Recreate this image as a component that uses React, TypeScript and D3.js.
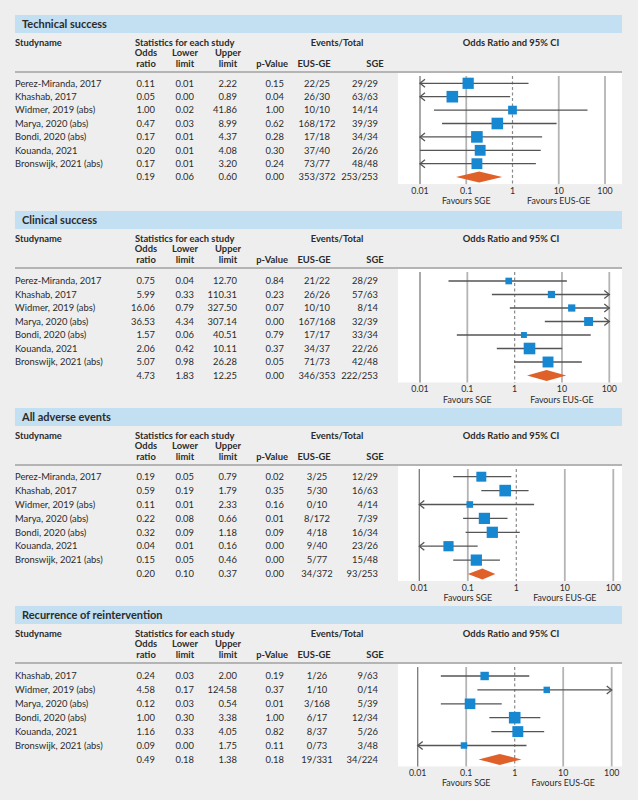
import React from "react";
import * as d3 from "d3";

const FONT = "Lato, 'Open Sans', sans-serif";

// ---------- Technical success ----------
const techStudies = ["Perez-Miranda, 2017", "Khashab, 2017", "Widmer, 2019 (abs)", "Marya, 2020 (abs)", "Bondi, 2020 (abs)", "Kouanda, 2021", "Bronswijk, 2021 (abs)"];
const techOR = [0.11, 0.05, 1.0, 0.47, 0.17, 0.2, 0.17];
const techLower = [0.006, 0.003, 0.02, 0.03, 0.007, 0.01, 0.006];
const techUpper = [2.22, 0.89, 41.86, 8.99, 4.37, 4.08, 3.2];
const techP = [0.15, 0.04, 1.0, 0.62, 0.28, 0.3, 0.24];
const techEUS = ["22/25", "26/30", "10/10", "168/172", "17/18", "37/40", "73/77"];
const techSGE = ["29/29", "63/63", "14/14", "39/39", "34/34", "26/26", "48/48"];
const techWeight = [15.0, 16.0, 9.1, 16.0, 16.0, 14.0, 14.0];
const techPooled = [0.19, 0.06, 0.6, 0.0];
const techPooledEvents = ["353/372", "253/253"];

// ---------- Clinical success ----------
const clinStudies = ["Perez-Miranda, 2017", "Khashab, 2017", "Widmer, 2019 (abs)", "Marya, 2020 (abs)", "Bondi, 2020 (abs)", "Kouanda, 2021", "Bronswijk, 2021 (abs)"];
const clinOR = [0.75, 5.99, 16.06, 36.53, 1.57, 2.06, 5.07];
const clinLower = [0.04, 0.33, 0.79, 4.34, 0.06, 0.42, 0.98];
const clinUpper = [12.7, 110.31, 327.5, 307.14, 40.51, 10.11, 26.28];
const clinP = [0.84, 0.23, 0.07, 0.0, 0.79, 0.37, 0.05];
const clinEUS = ["21/22", "26/26", "10/10", "167/168", "17/17", "34/37", "71/73"];
const clinSGE = ["28/29", "57/63", "8/14", "32/39", "33/34", "22/26", "42/48"];
const clinWeight = [8.6, 10.1, 10.1, 15.4, 6.8, 26.0, 23.0];
const clinPooled = [4.73, 1.83, 12.25, 0.0];
const clinPooledEvents = ["346/353", "222/253"];

// ---------- All adverse events ----------
const aeStudies = ["Perez-Miranda, 2017", "Khashab, 2017", "Widmer, 2019 (abs)", "Marya, 2020 (abs)", "Bondi, 2020 (abs)", "Kouanda, 2021", "Bronswijk, 2021 (abs)"];
const aeOR = [0.19, 0.59, 0.11, 0.22, 0.32, 0.04, 0.15];
const aeLower = [0.05, 0.19, 0.007, 0.08, 0.09, 0.008, 0.05];
const aeUpper = [0.79, 1.79, 2.33, 0.66, 1.18, 0.16, 0.46];
const aeP = [0.02, 0.35, 0.16, 0.01, 0.09, 0.0, 0.0];
const aeEUS = ["3/25", "5/30", "0/10", "8/172", "4/18", "9/40", "5/77"];
const aeSGE = ["12/29", "16/63", "4/14", "7/39", "16/34", "23/26", "15/48"];
const aeWeight = [13.0, 17.7, 5.8, 16.6, 16.6, 13.7, 16.6];
const aePooled = [0.2, 0.1, 0.37, 0.0];
const aePooledEvents = ["34/372", "93/253"];

// ---------- Recurrence of reintervention ----------
const recStudies = ["Khashab, 2017", "Widmer, 2019 (abs)", "Marya, 2020 (abs)", "Bondi, 2020 (abs)", "Kouanda, 2021", "Bronswijk, 2021 (abs)"];
const recOR = [0.24, 4.58, 0.12, 1.0, 1.16, 0.09];
const recLower = [0.03, 0.17, 0.03, 0.3, 0.33, 0.004];
const recUpper = [2.0, 124.58, 0.54, 3.38, 4.05, 1.75];
const recP = [0.19, 0.37, 0.01, 1.0, 0.82, 0.11];
const recEUS = ["1/26", "1/10", "3/168", "6/17", "8/37", "0/73"];
const recSGE = ["9/63", "0/14", "5/39", "12/34", "5/26", "3/48"];
const recWeight = [13.6, 8.0, 21.6, 25.8, 22.9, 8.0];
const recPooled = [0.49, 0.18, 1.38, 0.18];
const recPooledEvents = ["19/331", "34/224"];

const axisTicks = [0.01, 0.1, 1, 10, 100];
const axisTickLabels = ["0.01", "0.1", "1", "10", "100"];

const panels = [
  { title: "Technical success", studies: techStudies, or: techOR, lower: techLower, upper: techUpper, p: techP, eus: techEUS, sge: techSGE, weight: techWeight, pooled: techPooled, pooledEvents: techPooledEvents,
    top: 15, firstRow: 83.3, step: 13.4, range: [420, 605] },
  { title: "Clinical success", studies: clinStudies, or: clinOR, lower: clinLower, upper: clinUpper, p: clinP, eus: clinEUS, sge: clinSGE, weight: clinWeight, pooled: clinPooled, pooledEvents: clinPooledEvents,
    top: 211, firstRow: 281, step: 13.5, range: [420, 609.3] },
  { title: "All adverse events", studies: aeStudies, or: aeOR, lower: aeLower, upper: aeUpper, p: aeP, eus: aeEUS, sge: aeSGE, weight: aeWeight, pooled: aePooled, pooledEvents: aePooledEvents,
    top: 408, firstRow: 476.7, step: 13.9, range: [419.3, 613.3] },
  { title: "Recurrence of reintervention", studies: recStudies, or: recOR, lower: recLower, upper: recUpper, p: recP, eus: recEUS, sge: recSGE, weight: recWeight, pooled: recPooled, pooledEvents: recPooledEvents,
    top: 606, firstRow: 676, step: 13.9, range: [417.7, 611.7] },
];

const TXT = "#2b2b2b";
const FS = 9.4;
const fmt = (v: number) => v.toFixed(2);

function Panel({ cfg }: { cfg: any }) {
  const { title, studies, or, lower, upper, p, eus, sge, weight, pooled, pooledEvents, top: T, firstRow, step, range } = cfg;
  const x = d3.scaleLog().domain([0.01, 100]).range(range);
  const n = studies.length;
  const rowY = (i: number) => firstRow + i * step;
  const lastY = rowY(n);
  const plotTop = T + 58;
  const plotBottom = lastY + 7;
  const size = d3.scaleSqrt().domain([0, d3.max(weight as number[]) as number]).range([0, 11.6]);
  const rows = studies.map((s: string, i: number) => ({ s, or: or[i], lo: lower[i], hi: upper[i], p: p[i], e: eus[i], g: sge[i], w: weight[i] }));
  const numCols = [155, 194, 237, 284];
  const c0 = x(0.01), c1 = x(100);

  const textRow = (y: number, name: string, vals: number[], e: string, g: string, key: string) => (
    <g key={key} fontFamily={FONT} fontSize={FS} fill={TXT}>
      {name && <text x={15} y={y} dy="0.35em">{name}</text>}
      {vals.map((v, j) => (
        <text key={j} x={numCols[j]} y={y} dy="0.35em" textAnchor="end">{fmt(v)}</text>
      ))}
      <text x={317} y={y} dy="0.35em" textAnchor="middle">{e}</text>
      <text x={378} y={y} dy="0.35em" textAnchor="end">{g}</text>
    </g>
  );

  return (
    <g>
      <rect x={15} y={T} width={607} height={18} fill="#c3dff2" />
      <text x={22} y={T + 13.3} fontFamily={FONT} fontSize={11} fontWeight="bold" fill={TXT}>{title}</text>
      <g fontFamily={FONT} fontSize={FS} fontWeight="bold" fill={TXT}>
        <text x={15} y={T + 30.5}>Studyname</text>
        <text x={135} y={T + 30.5}>Statistics for each study</text>
        <text x={337} y={T + 30.5} textAnchor="middle">Events/Total</text>
        <text x={511} y={T + 30.5} textAnchor="middle">Odds Ratio and 95% CI</text>
        <text x={146} y={T + 41} textAnchor="middle">Odds</text>
        <text x={185} y={T + 41} textAnchor="middle">Lower</text>
        <text x={228} y={T + 41} textAnchor="middle">Upper</text>
        <text x={146} y={T + 51.5} textAnchor="middle">ratio</text>
        <text x={185} y={T + 51.5} textAnchor="middle">limit</text>
        <text x={228} y={T + 51.5} textAnchor="middle">limit</text>
        <text x={288} y={T + 51.5} textAnchor="end">p-Value</text>
        <text x={314} y={T + 51.5} textAnchor="middle">EUS-GE</text>
        <text x={375} y={T + 51.5} textAnchor="middle">SGE</text>
      </g>
      <line x1={15} x2={622} y1={T + 57} y2={T + 57} stroke="#a0a0a0" strokeWidth={1.5} />
      <rect x={398} y={plotTop} width={224} height={plotBottom - plotTop} fill="#ffffff" />
      {axisTicks.map((t, i) =>
        t === 1 ? (
          <line key={i} x1={x(t)} x2={x(t)} y1={plotTop + 3} y2={plotBottom} stroke="#8a8a8a" strokeWidth={1.2} strokeDasharray="3,2.5" />
        ) : (
          <line key={i} x1={x(t)} x2={x(t)} y1={plotTop + 3} y2={plotBottom} stroke={t === 0.01 ? "#7a7a7a" : "#b4b4b4"} strokeWidth={t === 0.01 ? 1.3 : 1.8} />
        )
      )}
      {rows.map((r: any, i: number) => {
        const y = rowY(i);
        const xl = r.lo < 0.01 ? c0 : x(r.lo);
        const xh = r.hi > 100 ? c1 : x(r.hi);
        const s = size(r.w);
        return (
          <g key={i}>
            <line x1={xl} x2={xh} y1={y} y2={y} stroke="#555" strokeWidth={1.3} />
            {r.lo < 0.01 && <path d={`M${c0 + 5},${y - 4}L${c0},${y}L${c0 + 5},${y + 4}`} fill="none" stroke="#555" strokeWidth={1.3} />}
            {r.hi > 100 && <path d={`M${c1 - 5},${y - 4}L${c1},${y}L${c1 - 5},${y + 4}`} fill="none" stroke="#555" strokeWidth={1.3} />}
            <rect x={x(r.or) - s / 2} y={y - s / 2} width={s} height={s} fill="#1688d2" />
          </g>
        );
      })}
      <path
        d={`M${x(pooled[1])},${lastY}L${x(pooled[0])},${lastY - 5.5}L${x(pooled[2])},${lastY}L${x(pooled[0])},${lastY + 5.5}Z`}
        fill="#e0602a"
      />
      {rows.map((r: any, i: number) => textRow(rowY(i), r.s, [r.or, r.lo, r.hi, r.p], r.e, r.g, "t" + i))}
      {textRow(lastY, "", pooled, pooledEvents[0], pooledEvents[1], "pooled")}
      <g fontFamily={FONT} fontSize={8.8} fill={TXT} textAnchor="middle">
        {axisTicks.map((t, i) => (
          <text key={i} x={x(t)} y={lastY + 13.5} dy="0.35em">{axisTickLabels[i]}</text>
        ))}
        <text x={x(0.1)} y={lastY + 24} dy="0.35em">Favours SGE</text>
        <text x={x(10)} y={lastY + 24} dy="0.35em">Favours EUS-GE</text>
      </g>
    </g>
  );
}

export default function App() {
  return (
    <svg width={638} height={800} style={{ position: "absolute", left: 0, top: 0, display: "block" }}>
      <rect x={0} y={0} width={638} height={800} fill="#eeeeee" />
      {panels.map((cfg, i) => (
        <Panel key={i} cfg={cfg} />
      ))}
    </svg>
  );
}
